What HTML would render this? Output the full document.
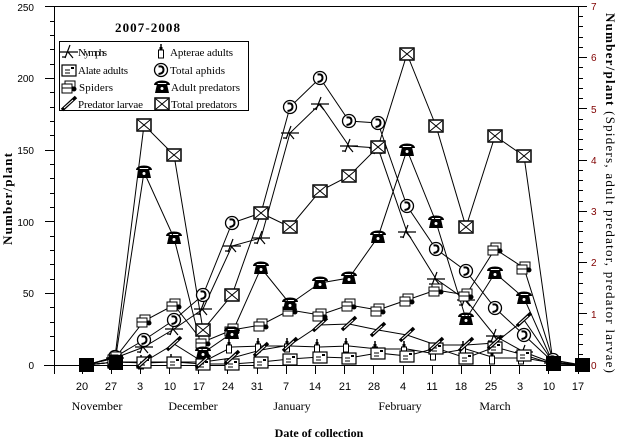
<!DOCTYPE html>
<html>
<head>
<meta charset="utf-8">
<style>
html,body{margin:0;padding:0;background:#fff;}
svg{display:block;}
.sans{font-family:"Liberation Sans",Arial,sans-serif;}
.serif{font-family:"Liberation Serif","Times New Roman",serif;}
</style>
</head>
<body>
<svg width="619" height="439" viewBox="0 0 619 439" xmlns="http://www.w3.org/2000/svg">
<defs>
  <g id="tp"><rect x="-7" y="-6" width="14" height="12" fill="#fff" stroke="#000" stroke-width="1.5"/><path d="M-6,-5 L6,5 M-6,5 L6,-5" stroke="#000" stroke-width="1" fill="none"/></g>
  <g id="ap"><path d="M-8,-2 C-8,-8 8,-8 8,-2 L5,-2 L4,-4 L-4,-4 L-5,-2 Z M-5,-3 L5,-3 L7,6 L-7,6 Z" fill="#000"/><circle cx="0" cy="1.5" r="1.5" fill="#fff"/></g>
  <g id="ta"><circle r="6.5" fill="#fff" stroke="#000" stroke-width="1.3"/><path d="M-2.5,-3.5 Q2.5,-4.5 2.5,0 Q2.5,3.5 -2.5,4" fill="none" stroke="#000" stroke-width="2"/></g>
  <g id="ny"><path d="M-9,0 L9,0 M-4,6 L1,-7 M-1,0 L4,6 M-7,5 L-3,5" fill="none" stroke="#000" stroke-width="1.2"/></g>
  <g id="sp"><rect x="-4" y="-6" width="10" height="6" fill="#fff" stroke="#000"/><rect x="-7" y="-3" width="10" height="9" fill="#fff" stroke="#000"/><path d="M-7,1 L3,1" stroke="#000"/><circle cx="5" cy="2" r="2.5" fill="#000"/></g>
  <g id="aa"><rect x="-2.5" y="-2" width="5" height="8" fill="#fff" stroke="#000"/><path d="M0,-8 L0,-2" stroke="#000" stroke-width="1.5"/><rect x="-1.5" y="-5" width="3" height="3" fill="#000"/></g>
  <g id="al"><rect x="-7" y="-5" width="14" height="11" fill="#fff" stroke="#000" stroke-width="1.2"/><path d="M-4,0 L1,0 M-4,3 L1,3" stroke="#000"/><rect x="2" y="-3" width="3" height="2" fill="#000"/></g>
  <g id="pl"><path d="M-7,6 L7,-7" stroke="#000" stroke-width="3.5"/><path d="M-5,4 L4,-4" stroke="#fff" stroke-width="1"/></g>
</defs>

<!-- Axes frame -->
<g stroke="#000" stroke-width="1" fill="none" shape-rendering="crispEdges">
  <path d="M45,6.5 H587"/>
  <path d="M54.5,6 V374"/>
  <path d="M578.5,6 V374"/>
  <path d="M44,365.5 H578"/>
  <!-- left major ticks -->
  <path d="M45,293.5H54 M45,221.5H54 M45,150.5H54 M45,78.5H54"/>
  <!-- left minor ticks -->
  <path d="M50,350.5H54 M50,336.5H54 M50,322.5H54 M50,307.5H54 M50,279.5H54 M50,264.5H54 M50,250.5H54 M50,236.5H54 M50,207.5H54 M50,193.5H54 M50,178.5H54 M50,164.5H54 M50,135.5H54 M50,121.5H54 M50,107.5H54 M50,92.5H54 M50,64.5H54 M50,49.5H54 M50,35.5H54 M50,21.5H54"/>
  <!-- right major ticks -->
  <path d="M578,365.5H587 M578,313.5H587 M578,262.5H587 M578,211.5H587 M578,160.5H587 M578,108.5H587 M578,57.5H587"/>
  <!-- right minor ticks -->
  <path d="M578,354.5H583 M578,344.5H583 M578,334.5H583 M578,324.5H583 M578,303.5H583 M578,293.5H583 M578,283.5H583 M578,272.5H583 M578,252.5H583 M578,242.5H583 M578,231.5H583 M578,221.5H583 M578,201.5H583 M578,190.5H583 M578,180.5H583 M578,170.5H583 M578,149.5H583 M578,139.5H583 M578,129.5H583 M578,119.5H583 M578,98.5H583 M578,88.5H583 M578,78.5H583 M578,67.5H583 M578,47.5H583 M578,37.5H583 M578,26.5H583 M578,16.5H583"/>
  <!-- bottom ticks -->
  <path d="M82.5,365V374 M111.5,365V374 M140.5,365V374 M169.5,365V374 M198.5,365V374 M227.5,365V374 M257.5,365V374 M286.5,365V374 M315.5,365V374 M344.5,365V374 M373.5,365V374 M403.5,365V374 M432.5,365V374 M461.5,365V374 M490.5,365V374 M519.5,365V374 M548.5,365V374"/>
</g>

<!-- Left tick labels -->
<g class="sans" font-size="10" text-anchor="end" fill="#000">
  <text x="34" y="11">250</text>
  <text x="34" y="82">200</text>
  <text x="34" y="154">150</text>
  <text x="34" y="226">100</text>
  <text x="34" y="297">50</text>
  <text x="34" y="369">0</text>
</g>
<!-- Right tick labels -->
<g class="sans" font-size="10" fill="#800000">
  <text x="591" y="10">7</text>
  <text x="591" y="61">6</text>
  <text x="591" y="113">5</text>
  <text x="591" y="164">4</text>
  <text x="591" y="215">3</text>
  <text x="591" y="266">2</text>
  <text x="591" y="318">1</text>
  <text x="591" y="369">0</text>
</g>
<!-- Bottom tick labels -->
<g class="sans" font-size="11" text-anchor="middle" fill="#000">
  <text x="82" y="390">20</text>
  <text x="111" y="390">27</text>
  <text x="140" y="390">3</text>
  <text x="170" y="390">10</text>
  <text x="199" y="390">17</text>
  <text x="228" y="390">24</text>
  <text x="257" y="390">31</text>
  <text x="286" y="390">7</text>
  <text x="315" y="390">14</text>
  <text x="345" y="390">21</text>
  <text x="374" y="390">28</text>
  <text x="403" y="390">4</text>
  <text x="432" y="390">11</text>
  <text x="461" y="390">18</text>
  <text x="491" y="390">25</text>
  <text x="520" y="390">3</text>
  <text x="549" y="390">10</text>
  <text x="578" y="390">17</text>
</g>
<g class="serif" font-size="12" text-anchor="middle" fill="#000">
  <text x="97" y="410">November</text>
  <text x="193" y="410">December</text>
  <text x="292" y="410">January</text>
  <text x="400" y="410">February</text>
  <text x="495" y="410">March</text>
</g>
<text class="serif" font-size="12" font-weight="bold" text-anchor="middle" x="319" y="437">Date of collection</text>
<text class="serif" font-size="13" font-weight="bold" x="115" y="32" textLength="65" lengthAdjust="spacing">2007-2008</text>
<text class="serif" font-size="13" font-weight="bold" transform="translate(12,245) rotate(-90)" textLength="92" lengthAdjust="spacing">Number/plant</text>
<text class="serif" font-size="13" transform="translate(606,13) rotate(90)" textLength="360" lengthAdjust="spacing"><tspan font-weight="bold">Number/plant</tspan> (Spiders, adult predator, predator larvae)</text>

<!-- Series lines -->
<g fill="none" stroke="#000" stroke-width="1">
  <polyline points="86,365 115,358 144,347 174,329 203,309 232,246 261,238 290,133 320,104 349,146 378,148 407,232 436,279 466,300 495,336 524,352 553,363 582,365"/>
  <polyline points="86,365 115,362 144,363 174,362 203,362 232,347 261,346 290,346 320,347 349,346 378,349 407,349 436,354 466,349 495,358 524,358 553,363 582,365"/>
  <polyline points="86,365 115,362 144,362 174,362 203,364 232,364 261,362 290,359 320,357 349,358 378,353 407,356 436,348 466,358 495,347 524,355 553,364 582,365"/>
  <polyline points="86,365 115,357 144,340 174,320 203,295 232,223 261,213 290,107 320,78 349,121 378,123 407,206 436,249 466,271 495,308 524,335 553,362 582,365"/>
  <polyline points="86,365 115,358 144,321 174,305 203,342 232,330 261,325 290,310 320,315 349,305 378,310 407,300 436,290 466,295 495,249 524,268 553,360 582,365"/>
  <polyline points="86,365 115,362 144,172 174,238 203,353 232,333 261,268 290,304 320,283 349,278 378,237 407,150 436,222 466,319 495,273 524,298 553,363 582,365"/>
  <polyline points="86,365 115,362 144,362 174,344 203,362 232,358 261,350 290,345 320,325 349,324 378,330 407,335 436,345 466,345 495,343 524,320 553,362 582,365"/>
  <polyline points="86,365 115,357 144,125 174,155 203,330 232,295 261,213 290,227 320,191 349,176 378,147 407,54 436,126 466,227 495,136 524,156 553,362 582,365"/>
</g>

<!-- Markers: Nymphs -->
<g>
<use href="#ny" x="115" y="358"/><use href="#ny" x="144" y="347"/><use href="#ny" x="174" y="329"/><use href="#ny" x="203" y="309"/><use href="#ny" x="232" y="246"/><use href="#ny" x="261" y="238"/><use href="#ny" x="290" y="133"/><use href="#ny" x="320" y="104"/><use href="#ny" x="349" y="146"/><use href="#ny" x="378" y="148"/><use href="#ny" x="407" y="232"/><use href="#ny" x="436" y="279"/><use href="#ny" x="466" y="300"/><use href="#ny" x="495" y="336"/><use href="#ny" x="524" y="352"/><use href="#ny" x="553" y="363"/>
</g>
<!-- Apterae -->
<g>
<use href="#aa" x="112" y="362"/><use href="#aa" x="141" y="363"/><use href="#aa" x="171" y="362"/><use href="#aa" x="200" y="362"/><use href="#aa" x="229" y="347"/><use href="#aa" x="258" y="346"/><use href="#aa" x="287" y="346"/><use href="#aa" x="317" y="347"/><use href="#aa" x="346" y="346"/><use href="#aa" x="375" y="349"/><use href="#aa" x="404" y="349"/><use href="#aa" x="433" y="354"/><use href="#aa" x="463" y="349"/><use href="#aa" x="492" y="358"/><use href="#aa" x="521" y="358"/><use href="#aa" x="550" y="363"/>
</g>
<!-- Alate -->
<g>
<use href="#al" x="115" y="362"/><use href="#al" x="144" y="362"/><use href="#al" x="174" y="362"/><use href="#al" x="203" y="364"/><use href="#al" x="232" y="364"/><use href="#al" x="261" y="362"/><use href="#al" x="290" y="359"/><use href="#al" x="320" y="357"/><use href="#al" x="349" y="358"/><use href="#al" x="378" y="353"/><use href="#al" x="407" y="356"/><use href="#al" x="436" y="348"/><use href="#al" x="466" y="358"/><use href="#al" x="495" y="347"/><use href="#al" x="524" y="355"/>
</g>
<!-- Total aphids -->
<g>
<use href="#ta" x="115" y="357"/><use href="#ta" x="144" y="340"/><use href="#ta" x="174" y="320"/><use href="#ta" x="203" y="295"/><use href="#ta" x="232" y="223"/><use href="#ta" x="290" y="107"/><use href="#ta" x="320" y="78"/><use href="#ta" x="349" y="121"/><use href="#ta" x="378" y="123"/><use href="#ta" x="407" y="206"/><use href="#ta" x="436" y="249"/><use href="#ta" x="466" y="271"/><use href="#ta" x="495" y="308"/><use href="#ta" x="524" y="335"/><use href="#ta" x="553" y="360"/>
</g>
<!-- Spiders -->
<g>
<use href="#sp" x="115" y="358"/><use href="#sp" x="144" y="321"/><use href="#sp" x="174" y="305"/><use href="#sp" x="203" y="342"/><use href="#sp" x="232" y="330"/><use href="#sp" x="261" y="325"/><use href="#sp" x="290" y="310"/><use href="#sp" x="320" y="315"/><use href="#sp" x="349" y="305"/><use href="#sp" x="378" y="310"/><use href="#sp" x="407" y="300"/><use href="#sp" x="436" y="290"/><use href="#sp" x="466" y="295"/><use href="#sp" x="495" y="249"/><use href="#sp" x="524" y="268"/>
</g>
<!-- Adult predators -->
<g>
<use href="#ap" x="115" y="362"/><use href="#ap" x="144" y="172"/><use href="#ap" x="174" y="238"/><use href="#ap" x="203" y="353"/><use href="#ap" x="232" y="333"/><use href="#ap" x="261" y="268"/><use href="#ap" x="290" y="304"/><use href="#ap" x="320" y="283"/><use href="#ap" x="349" y="278"/><use href="#ap" x="378" y="237"/><use href="#ap" x="407" y="150"/><use href="#ap" x="436" y="222"/><use href="#ap" x="466" y="319"/><use href="#ap" x="495" y="273"/><use href="#ap" x="524" y="298"/>
</g>
<!-- Predator larvae -->
<g>
<use href="#pl" x="115" y="362"/><use href="#pl" x="144" y="362"/><use href="#pl" x="174" y="344"/><use href="#pl" x="203" y="362"/><use href="#pl" x="232" y="358"/><use href="#pl" x="261" y="350"/><use href="#pl" x="290" y="345"/><use href="#pl" x="320" y="325"/><use href="#pl" x="349" y="324"/><use href="#pl" x="378" y="330"/><use href="#pl" x="407" y="335"/><use href="#pl" x="436" y="345"/><use href="#pl" x="466" y="345"/><use href="#pl" x="495" y="343"/><use href="#pl" x="524" y="320"/>
</g>
<!-- Total predators -->
<g>
<use href="#tp" x="144" y="125"/><use href="#tp" x="174" y="155"/><use href="#tp" x="203" y="330"/><use href="#tp" x="232" y="295"/><use href="#tp" x="261" y="213"/><use href="#tp" x="290" y="227"/><use href="#tp" x="320" y="191"/><use href="#tp" x="349" y="176"/><use href="#tp" x="378" y="147"/><use href="#tp" x="407" y="54"/><use href="#tp" x="436" y="126"/><use href="#tp" x="466" y="227"/><use href="#tp" x="495" y="136"/><use href="#tp" x="524" y="156"/>
</g>
<!-- overlapping zero clusters -->
<g fill="#000">
  <rect x="79" y="358" width="15" height="14"/>
  <rect x="109" y="355" width="14" height="15"/>
  <rect x="546" y="356" width="15" height="15"/>
  <rect x="575" y="358" width="15" height="14"/>
</g>

<!-- Legend -->
<rect x="59.5" y="41.5" width="189" height="69" fill="#fff" stroke="#000" stroke-width="1" shape-rendering="crispEdges"/>
<use href="#ny" x="69" y="52"/>
<use href="#al" x="69" y="70"/>
<use href="#sp" x="69" y="87"/>
<use href="#pl" x="69" y="104"/>
<use href="#aa" x="161" y="52"/>
<use href="#ta" x="161" y="70"/>
<use href="#ap" x="162" y="87"/>
<use href="#tp" x="162" y="104"/>
<g class="serif" font-size="11" fill="#000">
  <text x="78" y="56" textLength="29" lengthAdjust="spacing">Nymphs</text>
  <text x="78" y="74" textLength="50" lengthAdjust="spacing">Alate adults</text>
  <text x="79" y="91" textLength="34" lengthAdjust="spacing">Spiders</text>
  <text x="78" y="108" textLength="65" lengthAdjust="spacing">Predator larvae</text>
  <text x="170" y="56" textLength="63" lengthAdjust="spacing">Apterae adults</text>
  <text x="170" y="74" textLength="55" lengthAdjust="spacing">Total aphids</text>
  <text x="171" y="91" textLength="69" lengthAdjust="spacing">Adult predators</text>
  <text x="171" y="108" textLength="66" lengthAdjust="spacing">Total predators</text>
</g>
</svg>
</body>
</html>
